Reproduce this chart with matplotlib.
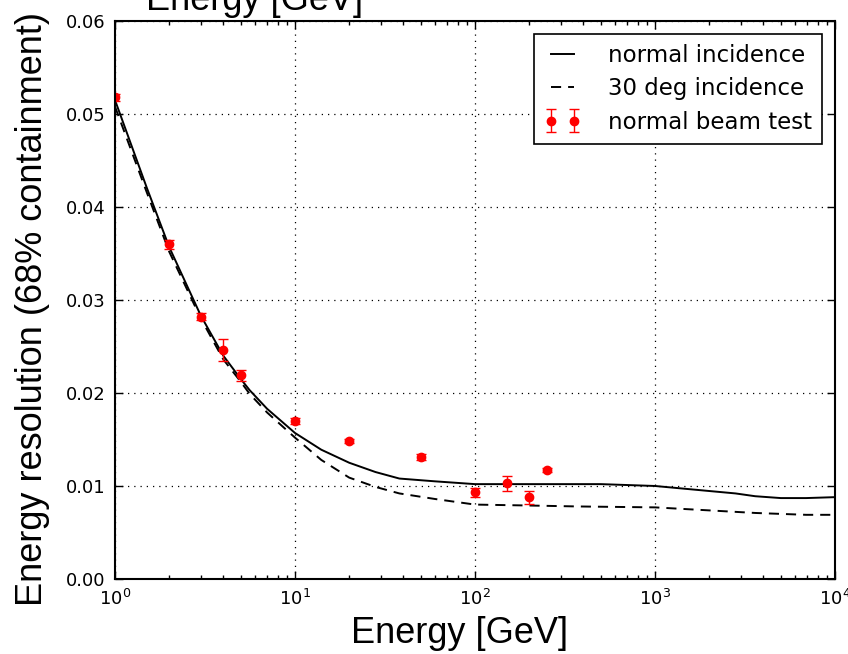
import matplotlib
matplotlib.use("Agg")
import matplotlib.pyplot as plt
from matplotlib.ticker import FixedLocator, FormatStrFormatter, LogLocator, NullFormatter

# ---- data ----
curve_energy_normal = [1, 1.5, 2, 3, 4, 5, 5.6, 7, 10, 14, 20, 28, 38, 60, 100, 200, 340,
                       500, 1000, 1900, 2800, 3600, 5000, 6900, 10000]
curve_normal = [0.0515, 0.0421, 0.0357, 0.0283, 0.0240, 0.0215, 0.0203, 0.0183, 0.0157,
                0.0139, 0.0125, 0.0115, 0.0108, 0.0105, 0.0102, 0.0102, 0.0102,
                0.0102, 0.0100, 0.0095, 0.0092, 0.0089, 0.0087, 0.0087, 0.0088]

curve_energy_30 = [1, 1.5, 2, 3, 4, 5, 5.6, 7, 10, 14, 20, 28, 38, 60, 100, 200, 370,
                   1000, 1900, 3600, 6900, 10000]
curve_30deg = [0.0508, 0.0416, 0.0352, 0.0280, 0.0236, 0.0212, 0.0199, 0.0179, 0.0152,
               0.0128, 0.0109, 0.0099, 0.0092, 0.0086, 0.0080, 0.0079, 0.0078,
               0.0077, 0.0074, 0.0071, 0.0069, 0.0069]

beam_energy = [1, 2, 3, 4, 5, 10, 20, 50, 100, 150, 200, 250]
beam_res = [0.0518, 0.0360, 0.0282, 0.0246, 0.0219, 0.0170, 0.0148, 0.0131,
            0.0093, 0.0103, 0.0088, 0.0117]
beam_err = [0.0004, 0.0005, 0.0004, 0.0012, 0.0006, 0.0003, 0.0002, 0.0003,
            0.0005, 0.0008, 0.0007, 0.0002]

y_ticks = [0.00, 0.01, 0.02, 0.03, 0.04, 0.05, 0.06]
x_label = "Energy [GeV]"
y_label = "Energy resolution (68% containment)"

# ---- figure ----
fig = plt.figure(figsize=(8.48, 6.54), dpi=100)
ax = fig.add_axes([0.1356, 0.1147, 0.8491, 0.8532])

ax.plot(curve_energy_normal, curve_normal, color="black", lw=1.4, label="normal incidence")
ax.plot(curve_energy_30, curve_30deg, color="black", lw=1.4, ls=(0, (5.2, 3.6)),
        label="30 deg incidence")
ax.errorbar(beam_energy, beam_res, yerr=beam_err, fmt="o", color="red", ecolor="red",
            markersize=6, capsize=3.5, elinewidth=1.0, capthick=1.0,
            markeredgecolor="red", label="normal beam test")

ax.set_xscale("log")
ax.set_xlim(1, 1e4)
ax.set_ylim(0, 0.06)
ax.yaxis.set_major_locator(FixedLocator(y_ticks))
ax.yaxis.set_major_formatter(FormatStrFormatter("%.2f"))
ax.xaxis.set_major_locator(LogLocator(base=10, numticks=10))
ax.xaxis.set_minor_locator(LogLocator(base=10, subs=range(2, 10), numticks=50))
ax.xaxis.set_minor_formatter(NullFormatter())

ax.grid(True, which="major", color="black", ls=(0, (1, 4)), lw=0.9)
ax.tick_params(which="both", direction="in", top=True, right=True, labelsize=13, pad=7)
ax.tick_params(which="major", length=6, width=1)
ax.tick_params(which="minor", length=3, width=1)
for s in ax.spines.values():
    s.set_linewidth(1.5)
    s.set_color("black")

for t in ax.get_yticklabels() + ax.get_xticklabels():
    t.set_family("DejaVu Sans")

ax.set_xlabel(x_label, fontsize=26, family="Liberation Sans")
ax.set_ylabel(y_label, fontsize=26, family="Liberation Sans")
ax.xaxis.set_label_coords(0.479, -0.066)
ax.yaxis.set_label_coords(-0.0903, 0.484)

leg = ax.legend(loc="upper right", numpoints=2, fancybox=False, framealpha=1,
                edgecolor="black", prop={"family": "DejaVu Sans", "size": 16.5},
                borderaxespad=0.55, handlelength=1.6, handletextpad=1.2,
                labelspacing=0.45, borderpad=0.45)
leg.get_frame().set_linewidth(1.2)

# cropped heading at the very top of the image
fig.text(255 / 848, 1 - 10 / 654, x_label, fontsize=26, family="Liberation Sans",
         ha="center", va="baseline")

fig.savefig("out.png", dpi=100)
